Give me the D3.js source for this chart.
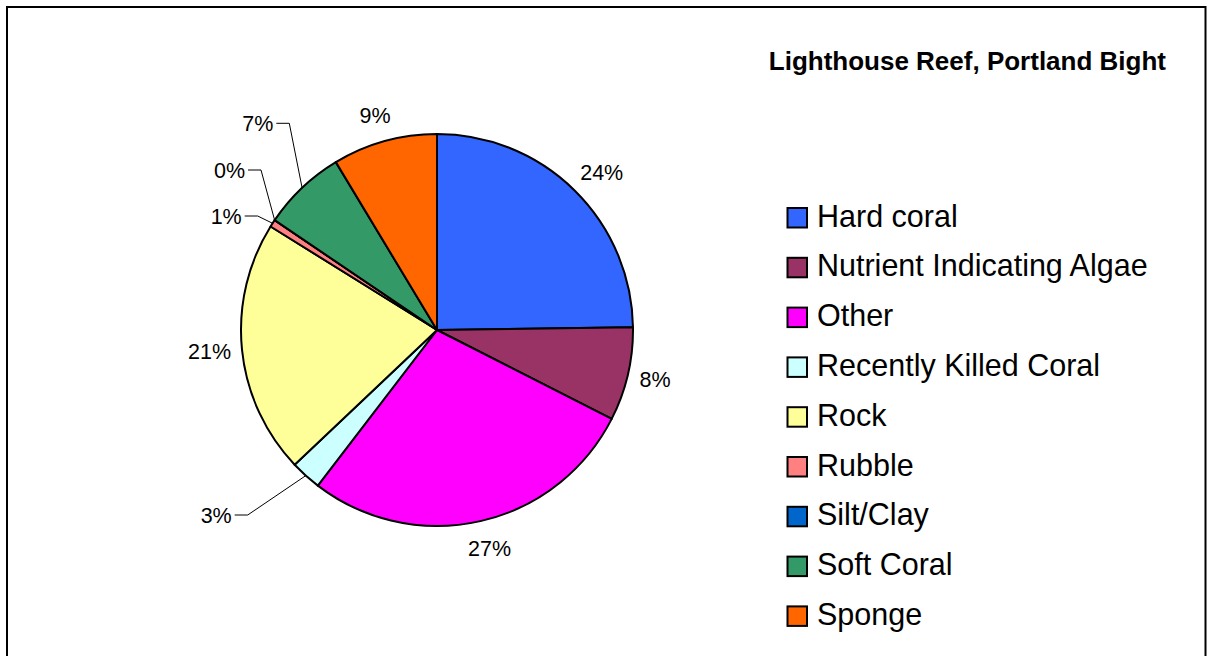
<!DOCTYPE html>
<html>
<head>
<meta charset="utf-8">
<script src="https://cdn.jsdelivr.net/npm/d3@7"></script>
<style>
  html, body { margin: 0; padding: 0; background: #fff; }
  svg { display: block; font-family: Arial, "Liberation Sans", sans-serif; }
</style>
</head>
<body>
<svg id="chart" width="1207" height="656"></svg>
<script>
// ---- data ----
const title = "Lighthouse Reef, Portland Bight";
const categories = ["Hard coral", "Nutrient Indicating Algae", "Other", "Recently Killed Coral",
                    "Rock", "Rubble", "Silt/Clay", "Soft Coral", "Sponge"];
const percents = [24.4, 7.6, 27.49, 2.5, 20.6, 0.6, 0, 6.8, 8.5];
const colors = ["#3366FF", "#993366", "#FF00FF", "#CCFFFF", "#FFFF99", "#FF8080", "#0066CC", "#339966", "#FF6600"];

// ---- layout ----
const svg = d3.select("#chart");
const W = 1207, H = 656;
const cx = 437, cy = 330, R = 196;

svg.append("rect").attr("x", 7).attr("y", 7).attr("width", 1198.5).attr("height", 662)
  .attr("fill", "#fff").attr("stroke", "#000").attr("stroke-width", 2);

const data = categories.map((c, i) => ({ cat: c, value: percents[i], color: colors[i] }));
const pie = d3.pie().sort(null).value(d => d.value).startAngle(0).endAngle(2 * Math.PI);
const arcs = pie(data);
const arc = d3.arc().innerRadius(0).outerRadius(R);

const g = svg.append("g").attr("transform", `translate(${cx},${cy})`);
g.selectAll("path.slice").data(arcs).join("path")
  .attr("class", "slice")
  .attr("d", arc)
  .attr("fill", d => d.data.color)
  .attr("stroke", "#000")
  .attr("stroke-width", 2)
  .attr("stroke-linejoin", "round");

const fmt = v => d3.format(".0f")(v) + "%";
const labelSize = 21.5;
const capHalf = labelSize * 0.716 / 2;

// labels placed off the pie with leader lines (right-end x, centre y relative to pie centre)
const leaderLayout = {
  "Recently Killed Coral": [-205.3, 185],
  "Rubble": [-195.3, -114],
  "Silt/Clay": [-192, -160],
  "Soft Coral": [-163.7, -206.7]
};

const lg = g.append("g");
arcs.forEach(a => {
  const mid = (a.startAngle + a.endAngle) / 2;
  const s = Math.sin(mid), c = Math.cos(mid);
  const text = fmt(a.data.value);
  const lay = leaderLayout[a.data.cat];
  if (lay) {
    const [tx, ty] = lay;
    lg.append("text").attr("x", tx).attr("y", ty + capHalf)
      .attr("text-anchor", "end").attr("font-size", labelSize).attr("fill", "#000").text(text);
    const ex = R * s, ey = -R * c;
    lg.append("path")
      .attr("d", d3.line()([[tx + 3, ty], [tx + 16, ty], [ex, ey]]))
      .attr("fill", "none").attr("stroke", "#000").attr("stroke-width", 1);
  } else {
    const t = lg.append("text").attr("font-size", labelSize).attr("fill", "#000")
      .attr("text-anchor", "middle").text(text);
    const halfW = t.node().getComputedTextLength() / 2;
    const gap = 10 + 10 * Math.abs(c);
    const px = (R + gap) * s + halfW * s;
    const py = -(R + gap) * c - capHalf * c;
    t.attr("x", px).attr("y", py + capHalf);
  }
});

// title
svg.append("text").attr("x", 1166).attr("y", 70).attr("text-anchor", "end")
  .attr("font-size", 26).attr("font-weight", "bold").attr("fill", "#000").text(title);

// legend
const legY0 = 226.5, legStep = 49.8;
const leg = svg.append("g");
data.forEach((d, i) => {
  const y = legY0 + i * legStep;
  leg.append("rect").attr("x", 787.5).attr("y", y - 18.5).attr("width", 19.5).attr("height", 19.5)
    .attr("fill", d.color).attr("stroke", "#000").attr("stroke-width", 2);
  leg.append("text").attr("x", 817).attr("y", y).attr("font-size", 30.5).attr("fill", "#000").text(d.cat);
});
</script>
</body>
</html>
